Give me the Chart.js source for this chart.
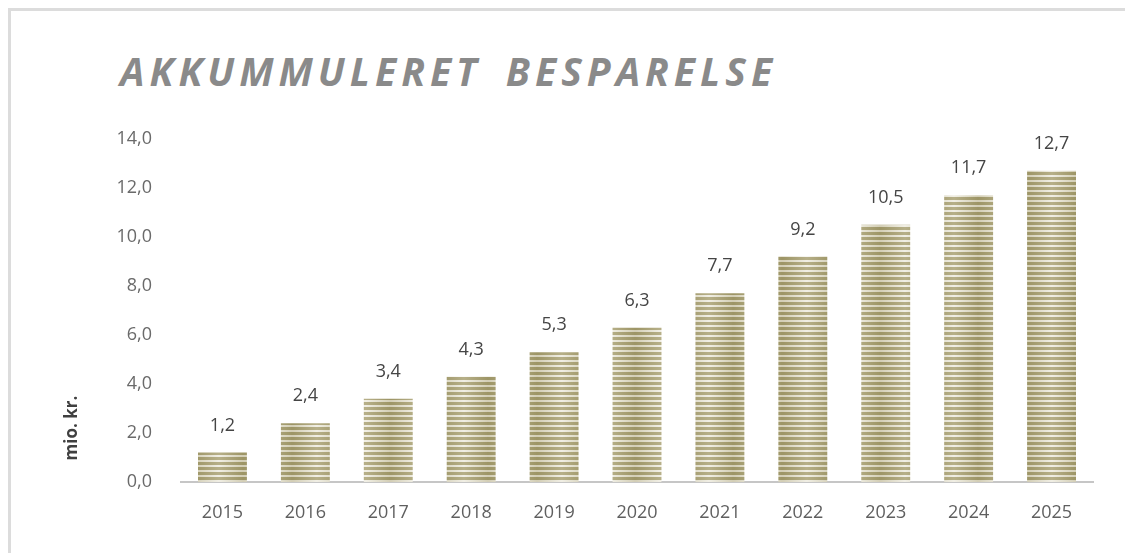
<!DOCTYPE html>
<html>
<head>
<meta charset="utf-8">
<script src="https://cdn.jsdelivr.net/npm/chart.js@4/dist/chart.umd.min.js"></script>
<style>
  html, body { margin: 0; padding: 0; background: #fff; }
  #wrap { position: relative; width: 1125px; height: 553px; overflow: hidden; }
  #frame { position: absolute; left: 8px; top: 8px; width: 1200px; height: 700px; border: 3px solid #dcdcdc; box-sizing: border-box; }
  #title { position: absolute; left: 120px; top: 43px; margin: 0; font-family: "Open Sans", sans-serif; font-style: italic; font-weight: 700; font-size: 39px; letter-spacing: 5px; word-spacing: 9px; color: #8a8a8a; line-height: 56px; white-space: nowrap; }
  canvas { position: absolute; left: 0; top: 0; }
</style>
</head>
<body>
<div id="wrap">
  <div id="frame"></div>
  <h1 id="title">AKKUMMULERET BESPARELSE</h1>
  <canvas id="c" width="1125" height="553"></canvas>
</div>
<script>
const categories = ["2015","2016","2017","2018","2019","2020","2021","2022","2023","2024","2025"];
const savings = [1.2, 2.4, 3.4, 4.3, 5.3, 6.3, 7.7, 9.2, 10.5, 11.7, 12.7];
const yTickMin = 0, yTickMax = 14, yTickStep = 2;
const axisTitle = "mio. kr.";

const fmt = v => v.toFixed(1).replace('.', ',');

function makeTile(w) {
  const period = 5;
  const t = document.createElement('canvas');
  t.width = Math.max(1, Math.round(w)); t.height = period;
  const c = t.getContext('2d');
  const dark = c.createLinearGradient(0, 0, t.width, 0);
  dark.addColorStop(0, '#9d9566'); dark.addColorStop(0.5, '#b7b089'); dark.addColorStop(1, '#9d9566');
  const light = c.createLinearGradient(0, 0, t.width, 0);
  light.addColorStop(0, '#d3ceb5'); light.addColorStop(0.5, '#f1efe5'); light.addColorStop(1, '#d3ceb5');
  c.fillStyle = dark; c.fillRect(0, 0, t.width, 3);
  c.fillStyle = light; c.fillRect(0, 3, t.width, 2);
  return t;
}

const stripePlugin = {
  id: 'stripes',
  beforeDatasetsDraw(chart) {
    const ctx = chart.ctx;
    chart.getDatasetMeta(0).data.forEach(el => {
      const tile = makeTile(el.width);
      const p = ctx.createPattern(tile, 'repeat');
      p.setTransform(new DOMMatrix().translate(el.x - el.width / 2, el.base));
      el.options.backgroundColor = p;
    });
  }
};

const labelPlugin = {
  id: 'valueLabels',
  afterDatasetsDraw(chart) {
    const ctx = chart.ctx;
    ctx.save();
    ctx.font = '18px "Open Sans", sans-serif';
    ctx.fillStyle = '#454545';
    ctx.textAlign = 'center';
    ctx.textBaseline = 'middle';
    chart.getDatasetMeta(0).data.forEach((el, i) => {
      ctx.fillText(fmt(savings[i]), el.x, el.y - 27);
    });
    const a = chart.chartArea;
    ctx.translate(a.left - 109, a.bottom - 54);
    ctx.rotate(-Math.PI / 2);
    ctx.font = 'bold 17px "Open Sans", sans-serif';
    ctx.fillStyle = '#404040';
    ctx.fillText(axisTitle, 0, 0);
    ctx.restore();
  }
};

new Chart(document.getElementById('c'), {
  type: 'bar',
  data: {
    labels: categories,
    datasets: [{
      data: savings,
      backgroundColor: '#c2bb97',
      borderWidth: 0,
      categoryPercentage: 1,
      barPercentage: 0.59
    }]
  },
  options: {
    responsive: false,
    animation: false,
    layout: { padding: { top: 139, right: 32, bottom: 0, left: 0 } },
    plugins: { legend: { display: false }, tooltip: { enabled: false }, title: { display: false } },
    scales: {
      x: {
        grid: { display: false },
        border: { display: true, color: '#c6c6c6', width: 2 },
        ticks: { color: '#5f5f5f', font: { family: 'Open Sans', size: 18 }, padding: 12, maxRotation: 0 },
        afterFit(s) { s.height = 71; }
      },
      y: {
        min: yTickMin, max: yTickMax,
        grid: { display: false },
        border: { display: false },
        ticks: { stepSize: yTickStep, color: '#6a6a6a', font: { family: 'Open Sans', size: 18 }, padding: 21, callback: v => fmt(v) },
        afterFit(s) { s.width = 181; }
      }
    }
  },
  plugins: [stripePlugin, labelPlugin]
});
</script>
</body>
</html>
